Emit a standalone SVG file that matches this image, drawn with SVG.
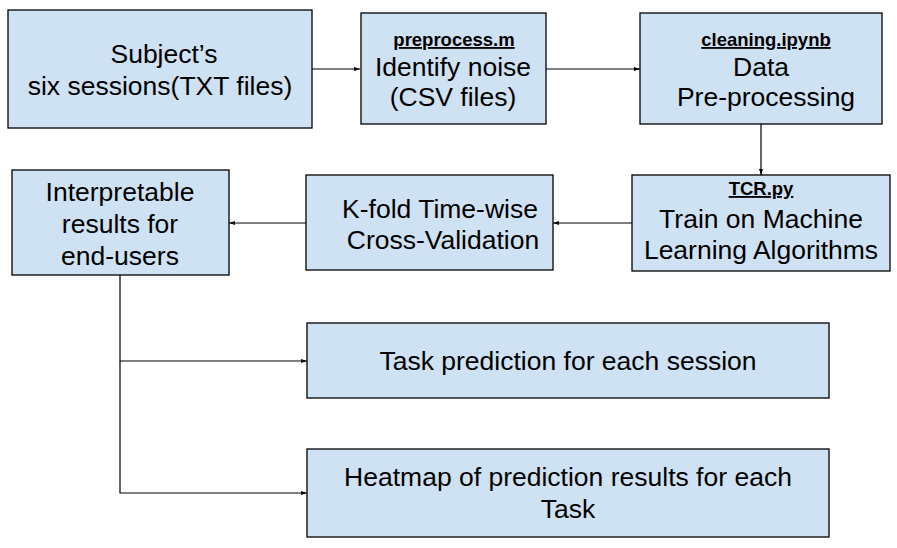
<svg xmlns="http://www.w3.org/2000/svg" width="897" height="548" viewBox="0 0 897 548">
<style>
.box{fill:#cfe2f3;stroke:#000;stroke-width:1.3}
.t{font-family:"Liberation Sans",Arial,sans-serif;font-size:26.5px;fill:#000;text-anchor:middle}
.s{font-family:"Liberation Sans",Arial,sans-serif;font-size:18.5px;font-weight:bold;fill:#000;text-anchor:middle;text-decoration:underline}
.c{fill:none;stroke:#000;stroke-width:1.2}
</style>
<defs>
<marker id="ah" viewBox="0 0 6 6" refX="6" refY="3" markerWidth="6" markerHeight="6" markerUnits="userSpaceOnUse" orient="auto">
<path d="M0,1 L6,3 L0,5 Z" fill="#000"/>
</marker>
</defs>
<rect width="897" height="548" fill="#fff"/>
<g id="connectors">
<line class="c" x1="312" y1="69" x2="360" y2="69" marker-end="url(#ah)"/>
<line class="c" x1="546" y1="69" x2="640" y2="69" marker-end="url(#ah)"/>
<line class="c" x1="761" y1="124" x2="761" y2="175" marker-end="url(#ah)"/>
<line class="c" x1="632" y1="223" x2="553" y2="223" marker-end="url(#ah)"/>
<line class="c" x1="306" y1="223" x2="229" y2="223" marker-end="url(#ah)"/>
<polyline class="c" points="120,275 120,361 307,361" marker-end="url(#ah)"/>
<polyline class="c" points="120,361 120,493 307,493" marker-end="url(#ah)"/>
</g>
<g id="n1">
<rect class="box" x="8" y="10" width="304" height="118"/>
<text class="t" x="164" y="63">Subject’s</text>
<text class="t" x="160" y="95">six sessions(TXT files)</text>
</g>
<g id="n2">
<rect class="box" x="361" y="13" width="185" height="111"/>
<text class="s" x="454" y="46">preprocess.m</text>
<text class="t" x="453" y="76">Identify noise</text>
<text class="t" x="453" y="106">(CSV files)</text>
</g>
<g id="n3">
<rect class="box" x="640" y="13" width="242" height="111"/>
<text class="s" x="766" y="46">cleaning.ipynb</text>
<text class="t" x="761" y="76">Data</text>
<text class="t" x="766" y="106">Pre-processing</text>
</g>
<g id="n4">
<rect class="box" x="632" y="175" width="258" height="96"/>
<text class="s" x="761" y="195">TCR.py</text>
<text class="t" x="761" y="228">Train on Machine</text>
<text class="t" x="761" y="259">Learning Algorithms</text>
</g>
<g id="n5">
<rect class="box" x="306" y="175" width="247" height="95"/>
<text class="t" x="440" y="218">K-fold Time-wise</text>
<text class="t" x="443" y="249">Cross-Validation</text>
</g>
<g id="n6">
<rect class="box" x="12" y="170" width="217" height="105"/>
<text class="t" x="120" y="201">Interpretable</text>
<text class="t" x="120" y="233">results for</text>
<text class="t" x="120" y="265">end-users</text>
</g>
<g id="n7">
<rect class="box" x="307" y="323" width="522" height="75"/>
<text class="t" x="568" y="370">Task prediction for each session</text>
</g>
<g id="n8">
<rect class="box" x="307" y="449" width="522" height="88"/>
<text class="t" x="568" y="486">Heatmap of prediction results for each</text>
<text class="t" x="568" y="518">Task</text>
</g>
</svg>
